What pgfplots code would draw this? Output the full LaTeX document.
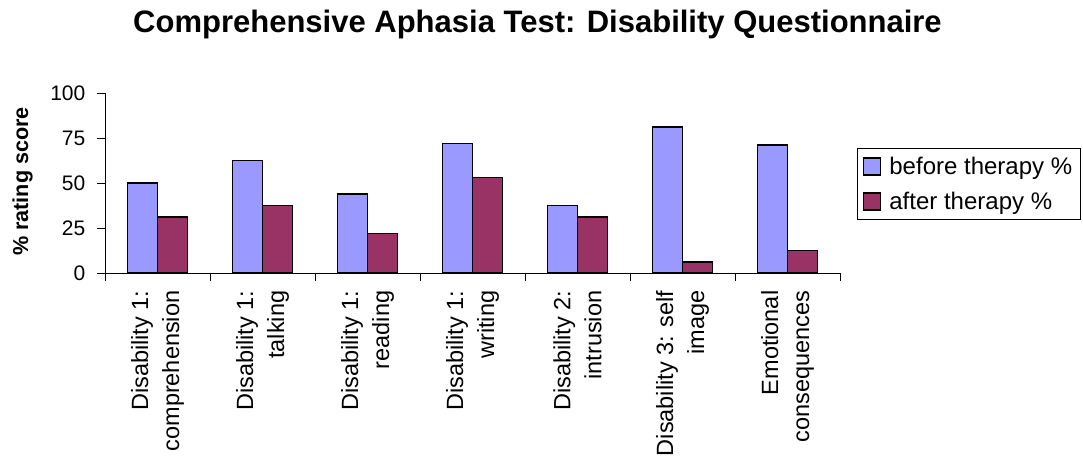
\documentclass[border=0pt]{standalone}
\usepackage{fontspec}
\setmainfont{Liberation Sans}
\usepackage{pgfplots}
\pgfplotsset{compat=1.18}
\definecolor{beforec}{HTML}{9999FF}
\definecolor{afterc}{HTML}{993366}
\begin{document}
\begin{tikzpicture}
\path[use as bounding box] (0pt,0pt) rectangle (1083pt,464pt);
\node[font=\fontsize{31}{35}\selectfont\bfseries, anchor=base] at (537.5pt,431pt) {Comprehensive Aphasia Test: Disability Questionnaire};
\node[font=\fontsize{21.6}{26}\selectfont\bfseries, rotate=90] at (22.5pt,282.5pt) {\% rating score};
\begin{axis}[
  at={(105pt,191pt)}, anchor=south west,
  scale only axis, width=735pt, height=180pt,
  xmin=-0.5, xmax=6.5, ymin=0, ymax=100,
  axis x line*=bottom, axis y line*=left,
  axis line style={-, line width=1pt, black},
  ytick={0,25,50,75,100},
  xtick={-0.5,0.5,1.5,2.5,3.5,4.5,5.5,6.5},
  x tick label as interval,
  xticklabels={{Disability 1:\\comprehension},{Disability 1:\\talking},{Disability 1:\\reading},{Disability 1:\\writing},{Disability 2:\\intrusion},{Disability 3: self\\image},{Emotional\\consequences}},
  xticklabel style={yshift=-10pt, rotate=90, anchor=east, align=right, font=\fontsize{23.5}{31}\selectfont, inner sep=0pt},
  yticklabel style={font=\fontsize{21}{25}\selectfont, inner sep=0pt, xshift=-12pt},
  /pgf/number format/assume math mode=true,
  tick align=outside, major tick length=7.5pt,
  tick style={line width=1pt, black},
  ybar=0pt, bar width=30pt,
  legend image code/.code={\draw[#1, line width=1.2pt] (0pt,-8.5pt) rectangle (17pt,8.5pt);},
  legend style={at={(1.0227,0.694)}, anchor=north west, draw=black, line width=1pt,
    font=\fontsize{24}{28}\selectfont, inner xsep=6pt, inner ysep=6.5pt, row sep=12pt,
    cells={anchor=west}, /tikz/every odd column/.append style={column sep=6pt}},
]
\addplot[draw=black, line width=1.8pt, fill=beforec] coordinates {(0,50) (1,62.5) (2,43.75) (3,71.9) (4,37.5) (5,81.25) (6,71)};
\addplot[draw=black, line width=1.8pt, fill=afterc] coordinates {(0,31.25) (1,37.5) (2,21.9) (3,53.1) (4,31.25) (5,6.25) (6,12.5)};
\legend{before therapy \%, after therapy \%}
\end{axis}
\end{tikzpicture}
\end{document}
